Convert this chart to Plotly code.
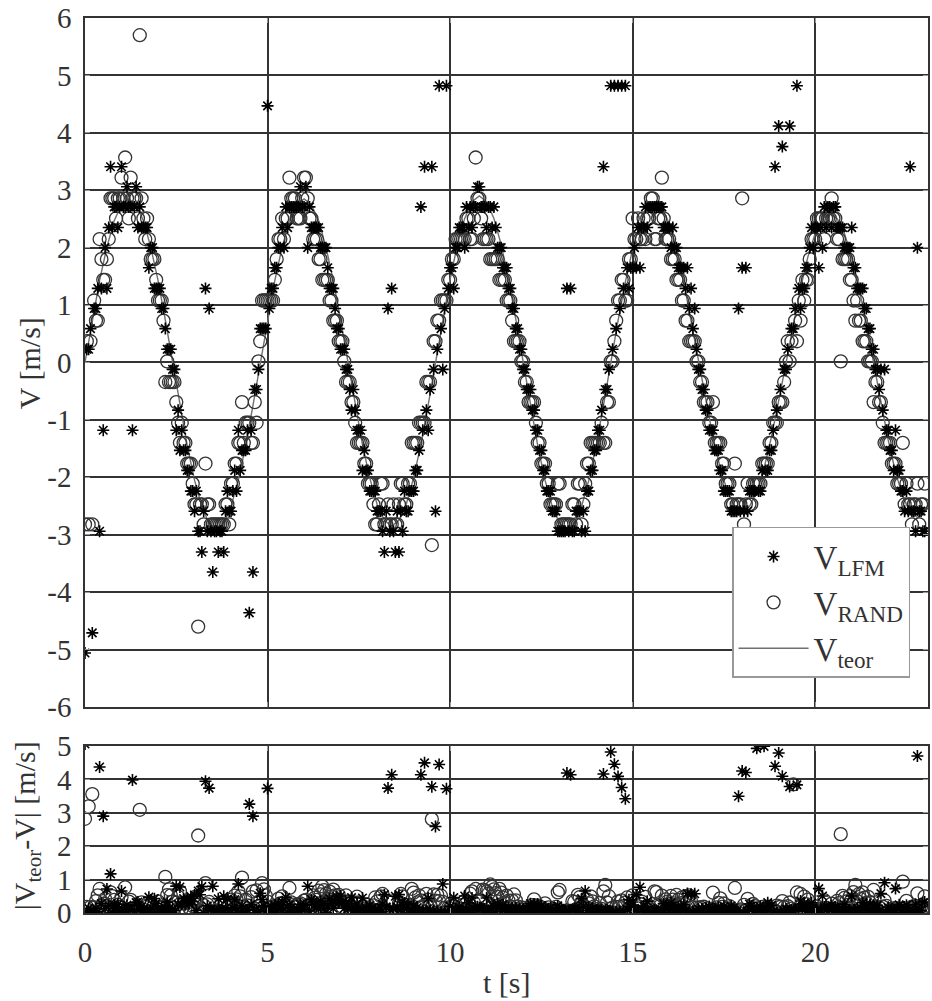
import numpy as np
import plotly.graph_objects as go

# ---------------- data ----------------
# theoretical velocity, sampled every 0.2 s
T_TEOR = [
    0.0, 0.2, 0.4, 0.6, 0.8, 1.0, 1.2, 1.4, 1.6, 1.8, 2.0, 2.2,
    2.4, 2.6, 2.8, 3.0, 3.2, 3.4, 3.6, 3.8, 4.0, 4.2, 4.4, 4.6,
    4.8, 5.0, 5.2, 5.4, 5.6, 5.8, 6.0, 6.2, 6.4, 6.6, 6.8, 7.0,
    7.2, 7.4, 7.6, 7.8, 8.0, 8.2, 8.4, 8.6, 8.8, 9.0, 9.2, 9.4,
    9.6, 9.8, 10.0, 10.2, 10.4, 10.6, 10.8, 11.0, 11.2, 11.4, 11.6, 11.8,
    12.0, 12.2, 12.4, 12.6, 12.8, 13.0, 13.2, 13.4, 13.6, 13.8, 14.0, 14.2,
    14.4, 14.6, 14.8, 15.0, 15.2, 15.4, 15.6, 15.8, 16.0, 16.2, 16.4, 16.6,
    16.8, 17.0, 17.2, 17.4, 17.6, 17.8, 18.0, 18.2, 18.4, 18.6, 18.8, 19.0,
    19.2, 19.4, 19.6, 19.8, 20.0, 20.2, 20.4, 20.6, 20.8, 21.0, 21.2, 21.4,
    21.6, 21.8, 22.0, 22.2, 22.4, 22.6, 22.8, 23.0, 23.2,
]
V_TEOR = [
    0.00, 0.74, 1.43, 2.01, 2.47, 2.75, 2.85, 2.75, 2.47, 2.01, 1.43, 0.74,
    0.00, -0.75, -1.45, -2.05, -2.51, -2.80, -2.90, -2.80, -2.51, -2.05, -1.45, -0.75,
    0.00, 0.74, 1.43, 2.01, 2.47, 2.75, 2.85, 2.75, 2.47, 2.01, 1.43, 0.74,
    0.00, -0.74, -1.43, -2.01, -2.47, -2.75, -2.85, -2.75, -2.47, -2.01, -1.43, -0.74,
    0.00, 0.75, 1.45, 2.05, 2.51, 2.80, 2.90, 2.80, 2.51, 2.05, 1.45, 0.75,
    0.00, -0.75, -1.45, -2.05, -2.51, -2.80, -2.90, -2.80, -2.51, -2.05, -1.45, -0.75,
    0.00, 0.73, 1.40, 1.98, 2.42, 2.70, 2.80, 2.70, 2.42, 1.98, 1.40, 0.73,
    0.00, -0.67, -1.30, -1.84, -2.25, -2.51, -2.60, -2.51, -2.25, -1.84, -1.30, -0.67,
    0.00, 0.67, 1.30, 1.84, 2.25, 2.51, 2.60, 2.51, 2.25, 1.84, 1.30, 0.67,
    0.00, -0.70, -1.35, -1.91, -2.34, -2.61, -2.70, -2.61, -2.34,
]

# measurement instants (s), first set
T_MEAS_A = [
    0.0, 0.1, 0.2, 0.3, 0.4, 0.5, 0.6, 0.7, 0.8, 0.9,
    1.0, 1.1, 1.2, 1.3, 1.4, 1.5, 1.6, 1.7, 1.8, 1.9,
    2.0, 2.1, 2.2, 2.3, 2.4, 2.5, 2.6, 2.7, 2.8, 2.9,
    3.0, 3.1, 3.2, 3.3, 3.4, 3.5, 3.6, 3.7, 3.8, 3.9,
    4.0, 4.1, 4.2, 4.3, 4.4, 4.5, 4.6, 4.7, 4.8, 4.9,
    5.0, 5.1, 5.2, 5.3, 5.4, 5.5, 5.6, 5.7, 5.8, 5.9,
    6.0, 6.1, 6.2, 6.3, 6.4, 6.5, 6.6, 6.7, 6.8, 6.9,
    7.0, 7.1, 7.2, 7.3, 7.4, 7.5, 7.6, 7.7, 7.8, 7.9,
    8.0, 8.1, 8.2, 8.3, 8.4, 8.5, 8.6, 8.7, 8.8, 8.9,
    9.0, 9.1, 9.2, 9.3, 9.4, 9.5, 9.6, 9.7, 9.8, 9.9,
    10.0, 10.1, 10.2, 10.3, 10.4, 10.5, 10.6, 10.7, 10.8, 10.9,
    11.0, 11.1, 11.2, 11.3, 11.4, 11.5, 11.6, 11.7, 11.8, 11.9,
    12.0, 12.1, 12.2, 12.3, 12.4, 12.5, 12.6, 12.7, 12.8, 12.9,
    13.0, 13.1, 13.2, 13.3, 13.4, 13.5, 13.6, 13.7, 13.8, 13.9,
    14.0, 14.1, 14.2, 14.3, 14.4, 14.5, 14.6, 14.7, 14.8, 14.9,
    15.0, 15.1, 15.2, 15.3, 15.4, 15.5, 15.6, 15.7, 15.8, 15.9,
    16.0, 16.1, 16.2, 16.3, 16.4, 16.5, 16.6, 16.7, 16.8, 16.9,
    17.0, 17.1, 17.2, 17.3, 17.4, 17.5, 17.6, 17.7, 17.8, 17.9,
    18.0, 18.1, 18.2, 18.3, 18.4, 18.5, 18.6, 18.7, 18.8, 18.9,
    19.0, 19.1, 19.2, 19.3, 19.4, 19.5, 19.6, 19.7, 19.8, 19.9,
    20.0, 20.1, 20.2, 20.3, 20.4, 20.5, 20.6, 20.7, 20.8, 20.9,
    21.0, 21.1, 21.2, 21.3, 21.4, 21.5, 21.6, 21.7, 21.8, 21.9,
    22.0, 22.1, 22.2, 22.3, 22.4, 22.5, 22.6, 22.7, 22.8, 22.9,
    23.0,
]

# LFM estimate (asterisks), first set
V_LFM_A = [
    -5.06, 0.23, -4.71, 0.94, -2.94, -1.18, 1.29, 3.41, 2.71, 2.35,
    3.41, 2.71, 2.71, -1.18, 3.06, 2.71, 2.35, 2.35, 2.00, 1.29,
    1.29, 0.94, 0.59, 0.23, -0.12, -1.18, -1.53, -1.53, -1.88, -2.24,
    -2.59, -2.94, -3.30, 1.29, 0.94, -3.65, -2.94, -2.94, -3.30, -2.24,
    -2.59, -1.88, -1.18, -1.53, -1.53, -4.36, -3.65, -0.47, 0.59, 0.59,
    4.47, 1.29, 1.65, 2.00, 2.35, 2.71, 2.71, 2.71, 2.71, 3.06,
    2.71, 2.00, 2.35, 2.35, 2.35, 2.00, 2.00, 1.29, 1.29, 0.59,
    0.23, 0.23, -0.12, -0.83, -0.83, -1.18, -1.88, -1.88, -2.24, -2.24,
    -2.59, -2.59, -3.30, 0.94, 1.29, -3.30, -3.30, -2.94, -2.59, -2.24,
    -2.24, -1.88, 2.71, 3.41, -1.18, 3.41, -2.59, 4.82, -0.12, 4.82,
    1.65, 1.29, 2.00, 2.35, 2.00, 2.35, 2.35, 2.71, 3.06, 2.71,
    2.35, 2.71, 2.71, 2.00, 2.00, 1.65, 1.29, 0.94, 0.59, 0.23,
    -0.12, -0.47, -0.47, -0.83, -1.18, -1.53, -1.88, -2.24, -2.59, -2.59,
    -2.94, -2.94, 1.29, 1.29, -2.94, -2.59, -2.94, -2.94, -2.24, -1.88,
    -1.53, -1.18, 3.41, -0.47, 4.82, 4.82, 4.82, 4.82, 4.82, 1.29,
    1.65, 1.65, 1.65, 2.35, 2.35, 2.71, 2.71, 2.71, 2.71, 2.35,
    2.35, 2.35, 2.00, 1.65, 1.65, 1.65, 1.29, 0.94, -0.12, -0.47,
    -0.83, -1.18, -1.18, -1.53, -1.88, -2.24, -2.24, -2.59, -2.59, 0.94,
    1.65, 1.65, -2.24, -2.24, -7.18, -2.24, -6.83, -1.88, -1.53, 3.41,
    4.12, 3.76, -0.12, 4.12, 0.59, 4.82, 0.94, 1.29, 1.65, 2.35,
    2.35, 1.65, 2.00, 2.35, 2.71, 2.71, 2.35, 2.35, 2.00, 2.00,
    2.35, 1.65, 1.29, 1.29, 0.94, 0.59, 0.23, -0.12, -0.12, -0.12,
    -1.18, -1.53, -1.18, -1.88, -2.24, -2.24, 3.41, -2.59, 2.00, -2.59,
    -2.94,
]

# RAND estimate (circles), first set
V_RAND_A = [
    -2.82, -2.82, -2.82, 0.73, 2.15, 1.44, 1.80, 2.86, 2.86, 2.86,
    3.22, 3.57, 2.51, 2.86, 2.86, 5.70, 2.51, 2.51, 1.80, 1.80,
    1.08, 1.08, -0.34, -0.34, -0.34, -0.69, -1.40, -1.40, -1.76, -1.76,
    -2.47, -4.60, -2.47, -1.76, -2.47, -2.82, -2.82, -2.82, -2.82, -2.47,
    -2.11, -1.76, -1.40, -0.69, -1.05, -1.05, -1.40, -1.05, 0.37, 1.08,
    1.08, 1.08, 1.44, 2.15, 2.51, 2.51, 3.22, 2.86, 2.51, 2.51,
    3.22, 2.86, 2.51, 2.15, 1.80, 1.44, 1.44, 1.08, 0.73, 0.73,
    0.37, 0.02, -0.34, -0.69, -1.05, -1.40, -1.40, -1.76, -2.11, -2.47,
    -2.82, -2.11, -2.82, -2.47, -2.82, -2.82, -2.47, -2.11, -2.47, -2.11,
    -1.40, -1.40, -1.05, -1.05, -0.34, -3.18, 0.37, 0.73, 1.08, 1.08,
    1.44, 1.80, 2.15, 2.15, 2.15, 2.51, 2.15, 3.57, 2.86, 2.15,
    2.15, 1.80, 1.80, 1.80, 1.44, 1.44, 1.08, 0.73, 0.37, 0.37,
    0.02, -0.34, -0.69, -0.69, -1.40, -1.76, -1.76, -2.11, -2.47, -2.47,
    -2.11, -2.82, -2.82, -2.82, -2.47, -2.11, -2.82, -2.11, -1.76, -1.40,
    -1.40, -1.40, -1.40, -0.69, 0.02, 0.37, 1.08, 1.44, 1.08, 1.80,
    2.51, 2.15, 2.15, 2.51, 2.51, 2.86, 2.15, 2.51, 3.22, 2.15,
    2.15, 1.80, 1.44, 1.44, 1.08, 0.73, 0.37, 0.37, 0.02, -0.34,
    -0.69, -1.05, -0.69, -1.40, -1.40, -1.76, -2.11, -2.47, -1.76, -2.47,
    2.86, -2.47, -2.47, -2.11, -2.11, -2.11, -1.76, -1.76, -1.40, -1.05,
    -0.69, -0.69, 0.02, 0.02, -3.18, 0.37, 0.73, 1.08, 1.44, 2.15,
    2.15, 2.51, 2.51, 2.51, 2.51, 2.51, 2.15, 0.02, 1.80, 1.80,
    1.44, 0.73, 0.73, 0.37, 0.37, 0.02, -0.69, -0.34, -0.69, -1.40,
    -1.40, -1.76, -1.76, -2.11, -1.40, -2.11, -2.47, -2.47, -2.11, -2.47,
    -2.11,
]

# measurement instants (s), second (interleaved) set
T_MEAS_B = [
    0.05, 0.15, 0.25, 0.35, 0.45, 0.55, 0.65, 0.75, 0.85, 0.95,
    1.05, 1.15, 1.25, 1.35, 1.45, 1.55, 1.65, 1.75, 1.85, 1.95,
    2.05, 2.15, 2.25, 2.35, 2.45, 2.55, 2.65, 2.75, 2.85, 2.95,
    3.05, 3.15, 3.25, 3.35, 3.45, 3.55, 3.65, 3.75, 3.85, 3.95,
    4.05, 4.15, 4.25, 4.35, 4.45, 4.55, 4.65, 4.75, 4.85, 4.95,
    5.05, 5.15, 5.25, 5.35, 5.45, 5.55, 5.65, 5.75, 5.85, 5.95,
    6.05, 6.15, 6.25, 6.35, 6.45, 6.55, 6.65, 6.75, 6.85, 6.95,
    7.05, 7.15, 7.25, 7.35, 7.45, 7.55, 7.65, 7.75, 7.85, 7.95,
    8.05, 8.15, 8.25, 8.35, 8.45, 8.55, 8.65, 8.75, 8.85, 8.95,
    9.05, 9.15, 9.25, 9.35, 9.45, 9.55, 9.65, 9.75, 9.85, 9.95,
    10.05, 10.15, 10.25, 10.35, 10.45, 10.55, 10.65, 10.75, 10.85, 10.95,
    11.05, 11.15, 11.25, 11.35, 11.45, 11.55, 11.65, 11.75, 11.85, 11.95,
    12.05, 12.15, 12.25, 12.35, 12.45, 12.55, 12.65, 12.75, 12.85, 12.95,
    13.05, 13.15, 13.25, 13.35, 13.45, 13.55, 13.65, 13.75, 13.85, 13.95,
    14.05, 14.15, 14.25, 14.35, 14.45, 14.55, 14.65, 14.75, 14.85, 14.95,
    15.05, 15.15, 15.25, 15.35, 15.45, 15.55, 15.65, 15.75, 15.85, 15.95,
    16.05, 16.15, 16.25, 16.35, 16.45, 16.55, 16.65, 16.75, 16.85, 16.95,
    17.05, 17.15, 17.25, 17.35, 17.45, 17.55, 17.65, 17.75, 17.85, 17.95,
    18.05, 18.15, 18.25, 18.35, 18.45, 18.55, 18.65, 18.75, 18.85, 18.95,
    19.05, 19.15, 19.25, 19.35, 19.45, 19.55, 19.65, 19.75, 19.85, 19.95,
    20.05, 20.15, 20.25, 20.35, 20.45, 20.55, 20.65, 20.75, 20.85, 20.95,
    21.05, 21.15, 21.25, 21.35, 21.45, 21.55, 21.65, 21.75, 21.85, 21.95,
    22.05, 22.15, 22.25, 22.35, 22.45, 22.55, 22.65, 22.75, 22.85, 22.95,
]

V_LFM_B = [
    0.23, 0.59, 0.94, 1.29, 1.29, 2.00, 2.35, 2.35, 2.71, 2.71,
    2.71, 3.06, 2.71, 2.71, 2.35, 2.35, 2.35, 1.65, 2.00, 1.29,
    1.29, 0.94, 0.23, 0.23, -0.12, -0.83, -1.18, -1.53, -1.88, -2.24,
    -2.24, -2.94, -2.59, -2.94, -2.94, -2.94, -3.30, -2.94, -2.59, -2.59,
    -2.24, -2.24, -1.88, -1.53, -1.18, -1.18, -0.47, -0.12, 0.59, 0.59,
    0.94, 1.29, 1.65, 2.00, 2.00, 2.35, 2.71, 2.71, 2.71, 2.71,
    3.06, 2.71, 2.35, 2.35, 2.00, 2.00, 1.65, 1.29, 0.94, 0.59,
    0.23, -0.12, -0.47, -0.47, -1.18, -1.18, -1.53, -1.88, -2.24, -2.24,
    -2.59, -2.94, -2.59, -2.94, -2.94, -2.59, -2.59, -2.24, -2.59, -2.24,
    -1.88, -1.53, -1.18, -0.83, -0.47, -0.12, 0.23, 0.59, 0.94, 1.29,
    1.65, 2.00, 2.35, 2.35, 2.71, 2.71, 2.71, 3.06, 2.71, 2.71,
    2.71, 2.35, 2.35, 2.00, 1.65, 1.65, 1.29, 0.94, 0.59, 0.23,
    -0.12, -0.47, -0.83, -1.18, -1.53, -1.88, -2.24, -2.24, -2.59, -2.94,
    -2.94, -2.94, -2.94, -2.94, -2.59, -2.59, -2.59, -2.24, -1.88, -1.53,
    -1.18, -0.83, -0.47, -0.12, 0.23, 0.59, 0.94, 1.29, 1.65, 1.65,
    2.00, 2.35, 2.35, 2.71, 2.71, 2.71, 2.71, 2.71, 2.35, 2.35,
    2.00, 2.00, 1.65, 1.65, 1.29, 0.94, 0.59, 0.23, -0.12, -0.47,
    -0.83, -1.18, -1.53, -1.53, -1.88, -2.24, -2.24, -2.59, -2.59, -2.59,
    -2.59, -2.59, -2.24, -2.24, -2.24, -1.88, -1.88, -1.53, -1.18, -0.83,
    -0.47, -0.12, 0.23, 0.59, 0.94, 1.29, 1.29, 1.65, 2.00, 2.00,
    2.35, 2.35, 2.71, 2.71, 2.35, 2.71, 2.35, 2.35, 2.00, 2.00,
    1.65, 1.29, 1.29, 0.94, 0.59, 0.23, -0.12, -0.47, -0.83, -1.18,
    -1.53, -1.88, -1.88, -2.24, -2.59, -2.59, -2.59, -2.94, -2.59, -2.94,
]

V_RAND_B = [
    0.37, 0.37, 1.08, 0.73, 1.80, 1.44, 2.15, 2.86, 2.51, 2.86,
    2.86, 2.86, 3.22, 2.86, 2.51, 2.86, 2.15, 2.15, 1.80, 1.44,
    1.08, 0.73, 0.02, -0.34, -0.34, -1.05, -1.05, -1.40, -1.76, -2.11,
    -2.47, -2.47, -2.82, -2.47, -2.82, -2.82, -2.82, -2.82, -2.47, -2.82,
    -2.11, -1.76, -1.40, -1.40, -1.05, -1.40, -0.69, 0.02, 1.08, 1.08,
    1.08, 1.08, 1.80, 2.15, 2.15, 2.51, 2.86, 2.86, 2.51, 2.86,
    3.22, 2.51, 2.15, 2.15, 1.80, 1.44, 1.44, 1.08, 0.73, 0.37,
    0.37, -0.34, -0.34, -0.69, -1.40, -1.40, -1.76, -2.11, -2.11, -2.82,
    -2.47, -2.11, -2.82, -2.82, -2.47, -2.82, -2.11, -2.47, -2.11, -1.40,
    -1.40, -1.05, -1.05, -0.34, -0.34, 0.37, 0.73, 1.08, 1.08, 1.44,
    1.80, 2.15, 2.15, 2.15, 2.51, 2.15, 2.51, 2.86, 2.51, 2.15,
    2.15, 1.80, 1.80, 1.44, 1.44, 1.08, 1.08, 0.37, 0.37, 0.02,
    -0.34, -0.69, -0.69, -1.05, -1.40, -1.76, -2.11, -2.47, -2.47, -2.11,
    -2.82, -2.82, -2.82, -2.47, -2.82, -2.11, -2.47, -1.76, -1.40, -1.40,
    -1.40, -1.05, -1.40, -0.69, 0.02, 0.73, 1.08, 1.44, 1.08, 1.80,
    2.15, 2.51, 2.15, 2.15, 2.51, 2.86, 2.15, 2.51, 2.51, 2.15,
    1.80, 1.80, 1.44, 1.08, 0.73, 0.37, 0.37, 0.02, -0.34, -0.69,
    -0.69, -1.05, -1.40, -1.40, -1.76, -2.11, -2.11, -2.47, -2.47, -2.47,
    -2.82, -2.11, -2.47, -2.11, -2.11, -1.76, -1.76, -1.40, -1.05, -1.05,
    -0.69, -0.34, 0.37, 0.37, 0.73, 1.08, 1.44, 1.44, 1.80, 2.15,
    2.51, 2.51, 2.15, 2.51, 2.86, 2.51, 2.15, 1.80, 1.80, 1.44,
    1.08, 1.08, 0.73, 0.37, 0.02, 0.02, -0.34, -0.69, -1.05, -1.40,
    -1.40, -1.76, -2.11, -2.11, -2.47, -2.47, -2.82, -2.47, -2.82, -2.47,
]

X_TICKS = [0, 5, 10, 15, 20]
X_TICK_TEXT = ["0", "5", "10", "15", "20"]
Y1_TICKS = [-6, -5, -4, -3, -2, -1, 0, 1, 2, 3, 4, 5, 6]
Y1_TICK_TEXT = ["-6", "-5", "-4", "-3", "-2", "-1", "0", "1", "2", "3", "4", "5", "6"]
Y2_TICKS = [0, 1, 2, 3, 4, 5]
Y2_TICK_TEXT = ["0", "1", "2", "3", "4", "5"]

# combine both measurement sets
t_meas = np.array(T_MEAS_A + T_MEAS_B)
v_lfm = np.array(V_LFM_A + V_LFM_B)
v_rand = np.array(V_RAND_A + V_RAND_B)

# absolute deviation from the theoretical curve (derived)
v_teor_at_meas = np.interp(t_meas, np.array(T_TEOR), np.array(V_TEOR))
err_lfm = np.abs(v_lfm - v_teor_at_meas)
err_rand = np.abs(v_rand - v_teor_at_meas)

# ---------------- styling ----------------
FONT = "Liberation Serif, Times New Roman, DejaVu Serif, serif"
TXT = "#333333"
GRID = "#333333"
star = dict(symbol="asterisk-open", size=10, color="black",
            line=dict(color="black", width=1.6))
circ = dict(symbol="circle-open", size=13, color="#333333",
            line=dict(color="#333333", width=1.3))

fig = go.Figure()
fig.add_trace(go.Scatter(x=T_TEOR, y=V_TEOR, mode="lines", name="V<sub>teor</sub>",
                         line=dict(color="#707070", width=1.4), legendrank=3,
                         legendgroup="c", xaxis="x", yaxis="y"))
fig.add_trace(go.Scatter(x=t_meas, y=v_rand, mode="markers", name="V<sub>RAND</sub>",
                         marker=circ, legendrank=2, legendgroup="b",
                         xaxis="x", yaxis="y"))
fig.add_trace(go.Scatter(x=t_meas, y=v_lfm, mode="markers", name="V<sub>LFM</sub>",
                         marker=star, legendrank=1, legendgroup="a",
                         xaxis="x", yaxis="y"))
fig.add_trace(go.Scatter(x=t_meas, y=err_rand, mode="markers", marker=circ,
                         showlegend=False, xaxis="x2", yaxis="y2"))
fig.add_trace(go.Scatter(x=t_meas, y=err_lfm, mode="markers", marker=star,
                         showlegend=False, xaxis="x2", yaxis="y2"))

common = dict(showgrid=True, gridcolor=GRID, gridwidth=1.5, showline=True,
              linecolor=GRID, linewidth=1.5, mirror="ticks", zeroline=False,
              ticks="inside", ticklen=5, tickcolor="#999999",
              tickfont=dict(family=FONT, size=29, color=TXT))

fig.update_layout(
    width=932, height=1001,
    margin=dict(l=85, r=2, t=18, b=88),
    paper_bgcolor="white", plot_bgcolor="white",
    font=dict(family=FONT, size=29, color=TXT),
    xaxis=dict(domain=[0, 1], range=[0, 23.09], anchor="y",
               tickvals=X_TICKS, ticktext=X_TICK_TEXT, showticklabels=False, **common),
    yaxis=dict(domain=[0.2302, 1.0], range=[-6, 6], anchor="x",
               tickvals=Y1_TICKS, ticktext=Y1_TICK_TEXT, ticklabelstandoff=6, **common),
    xaxis2=dict(domain=[0, 1], range=[0, 23.09], anchor="y2",
                tickvals=X_TICKS, ticktext=X_TICK_TEXT, ticklabelstandoff=12, **common),
    yaxis2=dict(domain=[0, 0.1866], range=[0, 5], anchor="x2",
                tickvals=Y2_TICKS, ticktext=Y2_TICK_TEXT, ticklabelstandoff=6, **common),
    legend=dict(x=0.9787, y=0.4313, xanchor="right", yanchor="top",
                bgcolor="white", bordercolor="#999999", borderwidth=1.5,
                font=dict(family=FONT, size=33, color=TXT),
                itemwidth=70, tracegroupgap=14, traceorder="normal"),
    showlegend=True,
    annotations=[
        dict(text="V [m/s]", xref="paper", yref="paper", x=-0.0663, y=0.6145,
             xanchor="center", yanchor="middle", textangle=-90, showarrow=False,
             font=dict(family=FONT, size=30, color=TXT)),
        dict(text="|V<sub>teor</sub>-V| [m/s]", xref="paper", yref="paper",
             x=-0.0686, y=0.0972, xanchor="center", yanchor="middle", textangle=-90,
             showarrow=False, font=dict(family=FONT, size=30, color=TXT)),
        dict(text="t [s]", xref="paper", yref="paper", x=0.5, y=-0.0771,
             xanchor="center", yanchor="middle", showarrow=False,
             font=dict(family=FONT, size=30, color=TXT)),
    ],
)

fig.write_html("out.html")
